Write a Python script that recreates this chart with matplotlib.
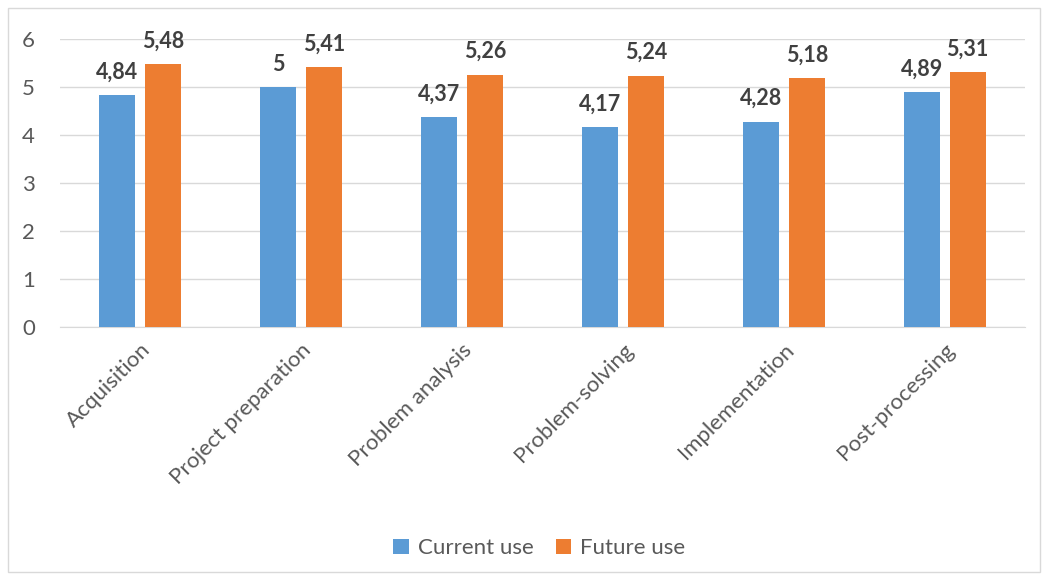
import numpy as np
import matplotlib.pyplot as plt
from matplotlib.patches import Rectangle

categorias = ["Acquisition", "Project preparation", "Problem analysis",
              "Problem-solving", "Implementation", "Post-processing"]
uso_actual = [4.84, 5.00, 4.37, 4.17, 4.28, 4.89]
uso_futuro = [5.48, 5.41, 5.26, 5.24, 5.18, 5.31]
series = ["Current use", "Future use"]

azul = "#5b9bd5"
naranja = "#ed7d31"
gris_texto = "#595959"

plt.rcParams['font.family'] = ['Lato', 'DejaVu Sans']

fig = plt.figure(figsize=(10.47, 5.8), dpi=100)
ax = fig.add_axes([0.0573, 0.436, 0.9217, 0.4966])

x = np.arange(len(categorias))
ancho = 0.224
desp = 0.143
barras1 = ax.bar(x - desp, uso_actual, ancho, color=azul, label=series[0], zorder=3)
barras2 = ax.bar(x + desp, uso_futuro, ancho, color=naranja, label=series[1], zorder=3)

def etiqueta(v):
    if v == int(v):
        return "{:d}".format(int(v))
    return "{:.2f}".format(v).replace(".", ",")

for barras, vals in [(barras1, uso_actual), (barras2, uso_futuro)]:
    for b, v in zip(barras, vals):
        ax.annotate(etiqueta(v), (b.get_x() + b.get_width() / 2, v),
                    xytext=(0, 9), textcoords="offset points",
                    ha="center", va="bottom", fontsize=15.5, fontweight="bold",
                    color="#404040")

ax.set_xlim(-0.5, len(categorias) - 0.5)
ax.set_ylim(0, 6)
ax.set_yticks(range(7))
ax.yaxis.grid(True, color="#d9d9d9", linewidth=1, zorder=0)
for lado in ["top", "right", "left"]:
    ax.spines[lado].set_visible(False)
ax.spines["bottom"].set_color("#d9d9d9")
ax.tick_params(axis="both", length=0, colors=gris_texto, labelsize=16)
ax.tick_params(axis="y", pad=18)
ax.tick_params(axis="x", pad=9)
ax.set_xticks(x)
ax.set_xticklabels(categorias, rotation=45, ha="right", rotation_mode="anchor")

fig.legend(handles=[barras1, barras2], labels=series, loc="center",
           bbox_to_anchor=(0.515, 0.055), ncol=2, frameon=False, fontsize=16,
           handlelength=0.7, handleheight=0.7, handletextpad=0.4,
           columnspacing=1.0, labelcolor=gris_texto)

fig.patches.append(Rectangle((8 / 1047, 8 / 580), 1032 / 1047, 564 / 580,
                             transform=fig.transFigure, fill=False,
                             edgecolor="#d9d9d9", linewidth=1))

fig.savefig("out.png", dpi=100)
